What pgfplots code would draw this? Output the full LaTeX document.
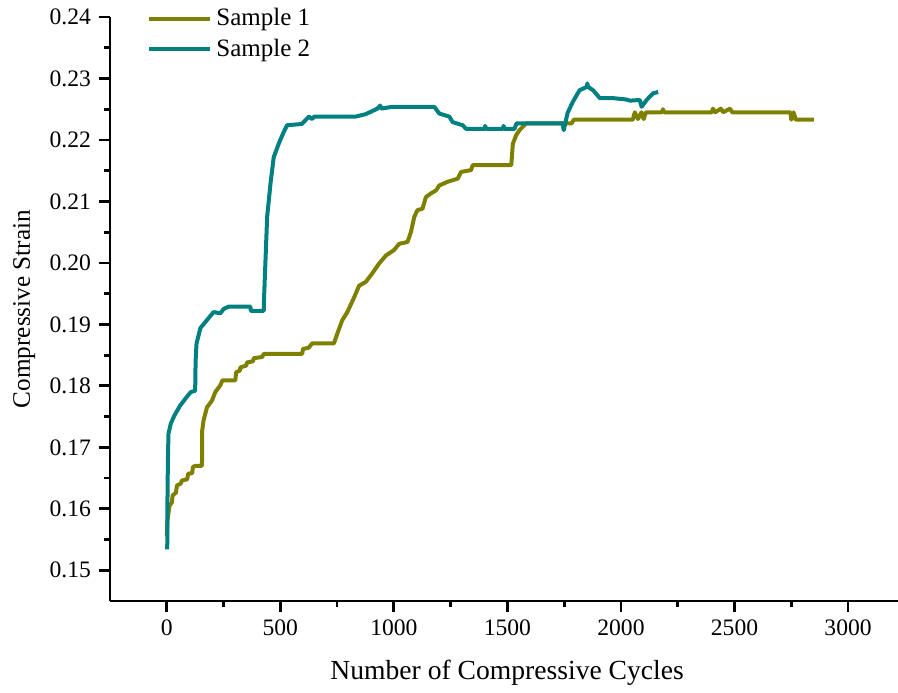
\documentclass[border=0pt]{standalone}
\usepackage{fontspec}
\setmainfont{Liberation Serif}
\usepackage{pgfplots}
\pgfplotsset{compat=1.18}
\definecolor{olivec}{RGB}{128,128,0}
\definecolor{tealc}{RGB}{0,128,128}
\begin{document}
\begin{tikzpicture}[line width=1.4pt]
\begin{axis}[
  line width=1.4pt,
  scale only axis,
  width=394pt, height=292pt,
  xmin=-250, xmax=3220,
  ymin=0.145, ymax=0.24,
  axis lines=left,
  separate axis lines,
  every outer x axis line/.append style={-, line width=1.4pt, black},
  every outer y axis line/.append style={-, line width=1.4pt, black},
  axis line style={-, line width=1.4pt, black},
  tick style={black, line width=1.4pt},
  major tick style={black, line width=1.4pt},
  minor tick style={black, line width=1.4pt},
  tick align=outside,
  major tick length=5.5pt,
  minor tick length=3pt,
  xtick={0,500,1000,1500,2000,2500,3000},
  ytick={0.15,0.16,0.17,0.18,0.19,0.20,0.21,0.22,0.23,0.24},
  minor x tick num=1,
  minor y tick num=1,
  /pgf/number format/assume math mode=true,
  xticklabel style={/pgf/number format/1000 sep={}, font=\fontsize{11.8}{13}\selectfont},
  yticklabel style={/pgf/number format/.cd, fixed, fixed zerofill, precision=2, /tikz/.cd, font=\fontsize{11.8}{13}\selectfont},
  xlabel={Number of Compressive Cycles},
  ylabel={Compressive Strain},
  xlabel style={font=\fontsize{13.8}{16}\selectfont, at={(axis description cs:0.504,-0.123)}, anchor=center},
  ylabel style={font=\fontsize{12.6}{15}\selectfont, at={(axis description cs:-0.109,0.5)}, anchor=center, rotate=0},
  legend style={at={(axis description cs:0,1)}, xshift=18pt, yshift=7pt, anchor=north west, draw=none, fill=none, inner sep=0pt, row sep=1pt, font=\fontsize{12.5}{15}\selectfont},
  legend cell align=left,
  legend image code/.code={\draw[#1] (0pt,0pt) -- (30.5pt,0pt);},
  clip=false,
]
\addplot[color=olivec, line width=2pt, line join=round] coordinates {
(0,0.1555) (3,0.1581) (12,0.1605) (22,0.1610) (26,0.1622) (40,0.1626) (45,0.1638)
(62,0.1641) (66,0.1646) (90,0.1648) (94,0.1657) (112,0.1658) (115,0.1668)
(125,0.1670) (155,0.1670) (156,0.1727) (162,0.1744) (177,0.1765) (199,0.1776)
(214,0.1790) (236,0.1801) (245,0.1809) (302,0.1809) (305,0.1822) (322,0.1825)
(324,0.1830) (350,0.1833) (353,0.1838) (380,0.1840) (383,0.1845) (420,0.1847)
(427,0.1852) (596,0.1852) (600,0.1860) (625,0.1862)
(640,0.1869) (736,0.1869) (751,0.1885) (773,0.1907) (795,0.1920) (825,0.1944)
(847,0.1963) (876,0.1969) (905,0.1983) (935,0.1999) (965,0.2012) (1001,0.2021)
(1023,0.2031) (1060,0.2034) (1075,0.2050) (1090,0.2075) (1104,0.2086) (1126,0.2088)
(1141,0.2107) (1163,0.2113) (1186,0.2118) (1200,0.2126) (1237,0.2132) (1281,0.2137)
(1296,0.2148) (1340,0.2151) (1347,0.2159) (1517,0.2159) (1524,0.2194) (1539,0.2208)
(1553,0.2216) (1583,0.2227) (1783,0.2227) (1792,0.2233) (2052,0.2233) (2061,0.2245)
(2075,0.2234) (2090,0.2245) (2100,0.2234) (2110,0.2245) (2180,0.2245) (2185,0.2250)
(2190,0.2245) (2400,0.2245) (2405,0.2251) (2415,0.2245) (2440,0.2251) (2450,0.2245)
(2480,0.2251) (2490,0.2245) (2746,0.2245) (2750,0.2233) (2760,0.2245) (2770,0.2233)
(2849,0.2233)
};
\addlegendentry{Sample 1}
\addplot[color=tealc, line width=2pt, line join=round] coordinates {
(2,0.1534) (3,0.1613) (5,0.1679) (7.5,0.1722) (18,0.1739) (34,0.1752) (59,0.1768)
(88,0.1782) (106,0.1790) (125,0.1792) (127,0.1841) (131,0.1869) (148,0.1894)
(177,0.1907) (206,0.1920) (236,0.1918) (250,0.1925) (273,0.1929) (368,0.1929)
(370,0.1922) (427,0.1922) (428,0.1939) (442,0.2075) (457,0.2130) (471,0.2172)
(493,0.2194) (515,0.2213) (530,0.2224) (595,0.2226) (626,0.2238) (640,0.2234)
(650,0.2238) (832,0.2238) (876,0.2242) (928,0.2251) (940,0.2256) (945,0.2251)
(994,0.2254) (1178,0.2254) (1200,0.2243) (1244,0.2238) (1259,0.2229) (1303,0.2224)
(1318,0.2218) (1400,0.2218) (1402,0.2223) (1406,0.2218) (1480,0.2218) (1483,0.2223)
(1487,0.2218) (1531,0.2218) (1540,0.2227) (1743,0.2227) (1748,0.2216) (1765,0.2244)
(1788,0.2262) (1818,0.2281) (1848,0.2286) (1852,0.2292) (1856,0.2286) (1877,0.2281)
(1907,0.2268) (1966,0.2268) (2020,0.2266) (2040,0.2264) (2083,0.2265) (2091,0.2254)
(2113,0.2265) (2142,0.2276) (2164,0.2278)
};
\addlegendentry{Sample 2}
\end{axis}
\pgfresetboundingbox
\path (-55pt,-45.5pt) rectangle (394pt,300.5pt);
\end{tikzpicture}
\end{document}
